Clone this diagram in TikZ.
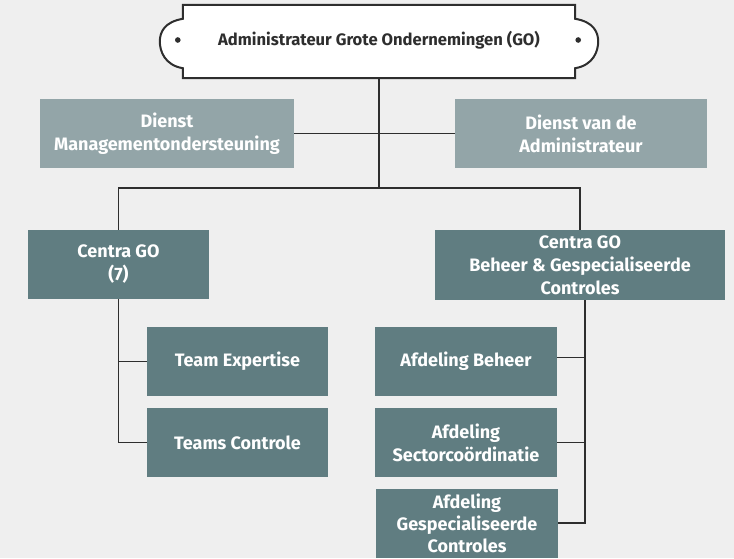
\documentclass[tikz,border=0pt]{standalone}
\usepackage{fontspec}
\setmainfont{Fira Sans}
\usepackage{tikz}

\definecolor{bggray}{HTML}{EFEFEF}
\definecolor{lightteal}{HTML}{93A5A8}
\definecolor{darkteal}{HTML}{607D81}
\definecolor{inkgray}{HTML}{2E2E2E}

\begin{document}
\begin{tikzpicture}[x=1pt, y=-1pt,
  box/.style={rectangle, inner sep=0pt, text=white, align=center,
    font=\fontsize{18}{23}\selectfont\bfseries},
  topbox/.style={box, fill=lightteal, minimum width=254pt, minimum height=69pt},
  unitbox/.style={box, fill=darkteal, minimum width=181pt, minimum height=69pt},
  link/.style={draw=inkgray, line width=1.6pt}]
\clip (0,0) rectangle (734,558);
\fill[bggray] (0,0) rectangle (734,558);

\node[rectangle, minimum width=392pt, minimum height=73pt, inner sep=0pt] (adm) at (379,41.5) {};
\filldraw[fill=white, draw=inkgray, line width=2pt]
  (adm.north west) -- (adm.north east) -- ([yshift=-14pt]adm.north east)
  .. controls ([xshift=18pt,yshift=-17pt]adm.north east) and ([xshift=23pt,yshift=-27pt]adm.north east) .. ([xshift=23pt]adm.east)
  .. controls ([xshift=23pt,yshift=27pt]adm.south east) and ([xshift=18pt,yshift=13pt]adm.south east) .. ([yshift=10pt]adm.south east)
  -- (adm.south east) -- (adm.south west) -- ([yshift=10pt]adm.south west)
  .. controls ([xshift=-18pt,yshift=13pt]adm.south west) and ([xshift=-23pt,yshift=27pt]adm.south west) .. ([xshift=-23pt]adm.west)
  .. controls ([xshift=-23pt,yshift=-27pt]adm.north west) and ([xshift=-18pt,yshift=-17pt]adm.north west) .. ([yshift=-14pt]adm.north west)
  -- cycle;
\node[text=inkgray, font=\fontsize{16.6}{20}\selectfont\bfseries] (admtext) at ([yshift=1.5pt]adm.center)
  {Administrateur Grote Ondernemingen (GO)};
\fill[inkgray] ([xshift=-5pt,yshift=1.5pt]adm.west) circle (2.8pt)
  ([xshift=3pt,yshift=1.5pt]adm.east) circle (2.8pt);

\node[topbox] (dms) at (167,133.5) {Dienst\\Managementondersteuning};
\node[topbox, minimum width=252pt] (dva) at (581,133.5) {Dienst van de\\Administrateur};

\node[unitbox] (cgo) at (118.5,264.5) {Centra GO\\(7)};
\node[unitbox, minimum width=290pt, minimum height=70pt] (cgb) at (580,265)
  {Centra GO\\Beheer \& Gespecialiseerde\\Controles};

\node[unitbox] (tex) at (237.5,361.5) {Team Expertise};
\node[unitbox] (tco) at (237.5,442.5) {Teams Controle};

\node[unitbox, minimum width=182pt] (abe) at (466,361.5) {Afdeling Beheer};
\node[unitbox, minimum width=182pt] (ase) at (466,442.5) {Afdeling\\Sectorcoördinatie};
\node[unitbox, minimum width=182pt, font=\fontsize{18}{22}\selectfont\bfseries] (agc) at (467,523)
  {Afdeling\\Gespecialiseerde\\Controles};

\coordinate (j) at (379,188);
\path[link]
  (adm.south) -- (j)
  (dms.east) -- (dva.west)
  (cgo.north) |- (j) -| (cgb.north)
  (cgo.south) |- (tex.west)
  (cgo.south) |- (tco.west)
  ([xshift=5pt]cgb.south) |- ([yshift=4pt]abe.east)
  ([xshift=5pt]cgb.south) |- (ase.east)
  ([xshift=5pt]cgb.south) |- (agc.east);
\end{tikzpicture}
\end{document}
